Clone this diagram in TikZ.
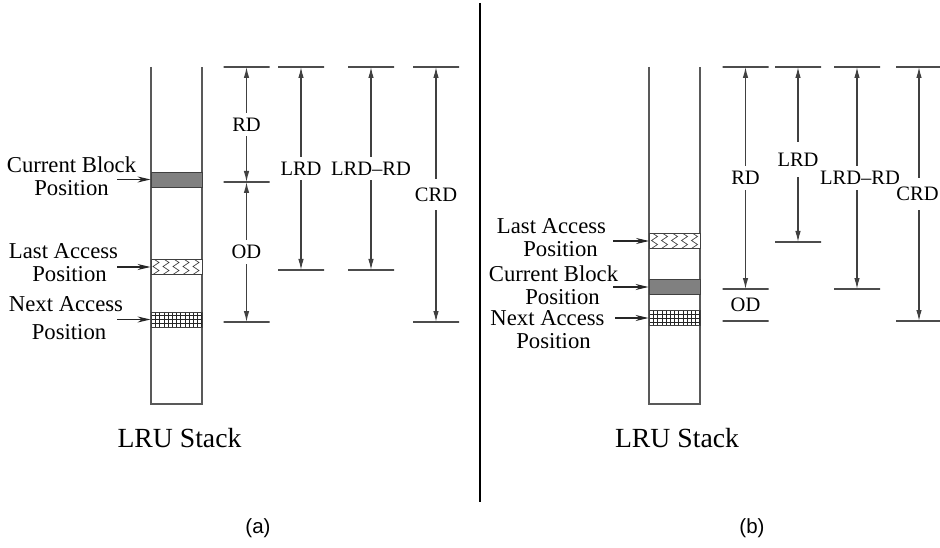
\documentclass[tikz,border=0pt]{standalone}
\usepackage{fontspec}
\setmainfont{Liberation Serif}
\newfontfamily\capfont{Liberation Sans}
\usetikzlibrary{arrows.meta,calc}

\begin{document}
\begin{tikzpicture}[
    x=1pt, y=-1pt,
    >={Latex[length=11pt,width=5.5pt]},
    stackwall/.style={draw=black!65, line width=1.6pt},
    blk/.style={draw=black!75, line width=0.9pt, minimum width=51pt,
                minimum height=15pt, inner sep=0pt},
    curblk/.style={blk, fill=black!50},
    zigblk/.style={blk, fill=white, path picture={
        \foreach \i in {0,...,4}
          \draw[black!80, line width=0.6pt]
            ($(path picture bounding box.north west)+(2+\i*10,-1)$)
            -- ++(6,4) -- ++(-6,4) -- ++(6,4) -- ++(-6,4) -- ++(6,4);}},
    gridblk/.style={blk, fill=white, path picture={
        \draw[black!85, line width=0.6pt, step=4.2pt]
          (path picture bounding box.south west) grid
          (path picture bounding box.north east);}},
    tick/.style={draw=black!70, line width=1.3pt, minimum width=46pt,
                 minimum height=0pt, inner sep=0pt, outer sep=0pt},
    dim/.style={<->, black!75, line width=1.1pt},
    dimlbl/.style={fill=white, text=black, inner xsep=1pt, inner ysep=5pt,
                   font=\fontsize{20.5}{22}\selectfont},
    poslbl/.style={align=center, font=\fontsize{22.7}{23}\selectfont},
    ptr/.style={-{Stealth[length=13pt,width=6pt]}, black!85, line width=1.1pt},
    stacktitle/.style={font=\fontsize{27.7}{30}\selectfont},
    caption/.style={font=\capfont\fontsize{20.5}{22}\selectfont},
]
\useasboundingbox (0,0) rectangle (940,548);

% --- divider between (a) and (b) ---
\coordinate (divTop) at (480,3);
\coordinate (divBot) at (480,502);
\draw[line width=2pt] (divTop) -- (divBot);

% --- (a): stack ---
\draw[stackwall] (151,67) -- (151,404) -- (202,404) -- (202,67);
\node[curblk]  (curA)  at (176.5,179.5) {};
\node[zigblk]  (lastA) at (176.5,267)   {};
\node[gridblk] (nextA) at (176.5,319.5) {};

\node[poslbl] (curLblA)  at (71.5,176)  {Current Block\\Position};
\node[poslbl] (lastLblA) at (63.5,263)  {Last Access\\\hspace*{12pt}Position};
\node[poslbl] (nextLblA) at (66,318)    {Next Access\\[5pt]\hspace*{6pt}Position};

\coordinate (curPtrA)  at (117,179.5);
\coordinate (lastPtrA) at (117,267);
\coordinate (nextPtrA) at (117,319.5);
\draw[ptr] (curPtrA)  -- (curA.west);
\draw[ptr] (lastPtrA) -- (lastA.west);
\draw[ptr] (nextPtrA) -- (nextA.west);

\node[stacktitle] (titleA) at (179.5,438) {LRU Stack};
\node[caption]    (capA)   at (258,528)   {(a)};

% --- (a): distances ---
\node[tick] (rdTopA) at (246.5,67)  {};
\node[tick] (rdMidA) at (246.5,182) {};
\node[tick] (rdBotA) at (246.5,322) {};
\node[tick] (lrdTopA) at (301,67)  {};
\node[tick] (lrdBotA) at (301,270) {};
\node[tick] (difTopA) at (371,67)  {};
\node[tick] (difBotA) at (371,270) {};
\node[tick] (crdTopA) at (436,67)  {};
\node[tick] (crdBotA) at (436,322) {};

\draw[dim] (rdTopA)  -- node[dimlbl]{RD}  (rdMidA);
\draw[dim] (rdMidA)  -- node[dimlbl]{OD}  (rdBotA);
\draw[dim] (lrdTopA) -- node[dimlbl]{LRD} (lrdBotA);
\draw[dim] (difTopA) -- node[dimlbl]{LRD--RD} (difBotA);
\draw[dim] (crdTopA) -- node[dimlbl, inner ysep=9pt]{CRD} (crdBotA);

% --- (b): stack ---
\draw[stackwall] (649,67) -- (649,404) -- (700,404) -- (700,67);
\node[zigblk]  (lastB) at (675,241)   {};
\node[curblk]  (curB)  at (674.5,287) {};
\node[gridblk] (nextB) at (674.5,318) {};

\node[poslbl] (lastLblB) at (551.5,238) {Last Access\\\hspace*{18pt}Position};
\node[poslbl] (curLblB)  at (553.5,285) {Current Block\\\hspace*{18pt}Position};
\node[poslbl] (nextLblB) at (547.5,330) {Next Access\\\hspace*{12pt}Position};

\coordinate (lastPtrB) at (613,241);
\coordinate (curPtrB)  at (613,287);
\coordinate (nextPtrB) at (615,318);
\draw[ptr] (lastPtrB) -- (lastB.west);
\draw[ptr] (curPtrB)  -- (curB.west);
\draw[ptr] (nextPtrB) -- (nextB.west);

\node[stacktitle] (titleB) at (677,438) {LRU Stack};
\node[caption]    (capB)   at (752,528) {(b)};

% --- (b): distances ---
\node[tick] (rdTopB) at (745.5,67)  {};
\node[tick] (rdMidB) at (745.5,289) {};
\node[tick] (rdBotB) at (745.5,321) {};
\node[tick] (lrdTopB) at (798,67)  {};
\node[tick] (lrdBotB) at (798,242) {};
\node[tick] (difTopB) at (857,67)  {};
\node[tick] (difBotB) at (857,289) {};
\node[tick] (crdTopB) at (919,67)  {};
\node[tick] (crdBotB) at (919,321) {};

\draw[dim] (rdTopB)  -- node[dimlbl]{RD} (rdMidB);
\node[dimlbl, fill=none] (odB) at ($(rdMidB)!0.5!(rdBotB)$) {OD};
\draw[dim] (lrdTopB) -- node[dimlbl, pos=0.53, inner ysep=11pt]{LRD} (lrdBotB);
\draw[dim] (difTopB) -- node[dimlbl, inner xsep=-8pt, xshift=3pt]{LRD--RD} (difBotB);
\draw[dim] (crdTopB) -- node[dimlbl, inner xsep=-8pt, inner ysep=9pt, xshift=-1.5pt]{CRD} (crdBotB);

\end{tikzpicture}
\end{document}
